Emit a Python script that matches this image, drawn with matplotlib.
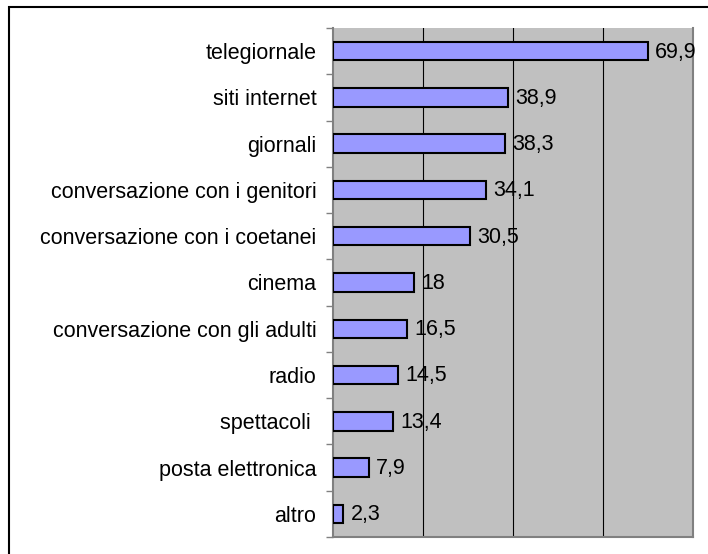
import matplotlib.pyplot as plt
from matplotlib.patches import Rectangle

categories = ['telegiornale', 'siti internet', 'giornali', 'conversazione con i genitori',
              'conversazione con i coetanei', 'cinema', 'conversazione con gli adulti',
              'radio', 'spettacoli ', 'posta elettronica', 'altro']
values = [69.9, 38.9, 38.3, 34.1, 30.5, 18, 16.5, 14.5, 13.4, 7.9, 2.3]

plt.rcParams['font.family'] = ['Liberation Sans', 'DejaVu Sans']

fig = plt.figure(figsize=(7.08, 5.54), dpi=100)
ax = fig.add_axes([333 / 708, 17 / 554, 360 / 708, 509 / 554])

ypos = list(range(len(categories)))
ax.barh(ypos, values, height=0.4, color='#9999FF', edgecolor='black', linewidth=1.5, zorder=3)
for y, v in zip(ypos, values):
    ax.text(v + 1.6, y + 0.02, f'{v:g}'.replace('.', ','), va='center', ha='left',
            fontsize=15.5, zorder=4)

ax.set_xlim(0, 80)
ax.set_ylim(len(categories) - 0.5, -0.5)
ax.set_facecolor('#C0C0C0')
for gx in (20, 40, 60):
    ax.axvline(gx, color='black', linewidth=0.8, zorder=1)

ax.set_yticks(ypos)
ax.set_yticklabels(categories, fontsize=15.5)
ax.set_yticks([y + 0.5 for y in [-1] + ypos], minor=True)
ax.tick_params(axis='y', which='major', length=0, pad=12)
ax.tick_params(axis='y', which='minor', length=5, width=1, color='#808080')
ax.set_xticks([])

ax.spines['top'].set_visible(False)
for side in ('right', 'left', 'bottom'):
    ax.spines[side].set_color('#808080')
    ax.spines[side].set_linewidth(1.5)

# outer chart frame, running off the right and bottom edges
fig.patches.append(Rectangle((9 / 708, -0.1), 1.2, 1.1 - 7 / 554, transform=fig.transFigure,
                             fill=False, edgecolor='black', linewidth=1.5))

fig.savefig('out.png', dpi=100)
